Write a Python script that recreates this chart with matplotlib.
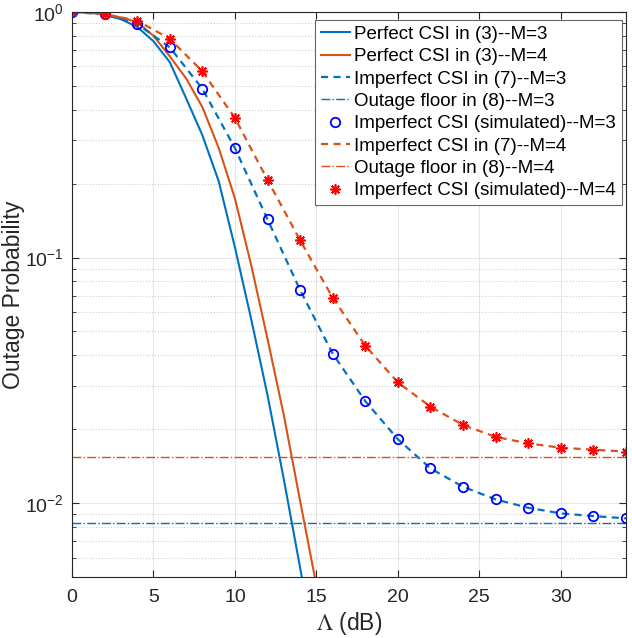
import matplotlib
matplotlib.use('Agg')
import matplotlib.pyplot as plt
import numpy as np

# perfect CSI, eq. (3)
x_perf = [0, 1, 2, 3, 4, 5, 6, 7, 8, 9, 10, 11, 12, 13, 14, 15, 16]
perf_m3 = [1.0, 0.995, 0.975, 0.935, 0.87, 0.76, 0.625, 0.446, 0.315, 0.205,
           0.110, 0.056, 0.0275, 0.0125, 0.00545, 0.00234, 0.001]
perf_m4 = [1.0, 0.997, 0.98, 0.95, 0.91, 0.80, 0.66, 0.537, 0.41, 0.28,
           0.174, 0.093, 0.0466, 0.0228, 0.0102, 0.00462, 0.00204]

# imperfect CSI, analysis (7) and simulation
x_imp = [0, 2, 4, 6, 8, 10, 12, 14, 16, 18, 20, 22, 24, 26, 28, 30, 32, 34]
imp_m3 = [1.0, 0.98, 0.894, 0.718, 0.487, 0.279, 0.143, 0.0737, 0.0406, 0.026,
          0.0182, 0.01384, 0.01165, 0.01035, 0.00957, 0.00908, 0.00885, 0.00867]
imp_m4 = [1.0, 0.98, 0.922, 0.778, 0.573, 0.370, 0.207, 0.1175, 0.0686, 0.0437,
          0.0310, 0.0247, 0.0208, 0.0186, 0.0175, 0.0168, 0.0165, 0.0162]
sim_m3 = imp_m3
sim_m4 = imp_m4

# outage floors, eq. (8)
floor_m3 = 0.00831
floor_m4 = 0.01539

blue = '#0072BD'
orange = '#D95319'
axcol = '#262626'

plt.rcParams['font.family'] = ['Liberation Sans', 'DejaVu Sans']
plt.rcParams['mathtext.fontset'] = 'custom'
plt.rcParams['mathtext.rm'] = 'Liberation Sans'

fig = plt.figure(figsize=(6.32, 6.38), dpi=100)
ax = fig.add_axes([72/632, 1-577/638, (626-72)/632, (577-12)/638])

asterisk = (8, 2, 0)

ax.plot(x_perf, perf_m3, '-', color=blue, lw=1.5, label='Perfect CSI in (3)--M=3')
ax.plot(x_perf, perf_m4, '-', color=orange, lw=1.5, label='Perfect CSI in (3)--M=4')
ax.plot(x_imp, imp_m3, '--', color=blue, lw=1.6, dashes=(3.2, 2.4), label='Imperfect CSI in (7)--M=3')
ax.axhline(floor_m3, color=blue, lw=1.0, ls='-.', label='Outage floor in (8)--M=3')
ax.plot(x_imp, sim_m3, 'o', color='blue', mfc='none', ms=6.8, mew=1.3, label='Imperfect CSI (simulated)--M=3')
ax.plot(x_imp, imp_m4, '--', color=orange, lw=1.6, dashes=(3.2, 2.4), label='Imperfect CSI in (7)--M=4')
ax.axhline(floor_m4, color=orange, lw=1.0, ls='-.', label='Outage floor in (8)--M=4')
ax.plot(x_imp, sim_m4, marker=asterisk, ls='none', color='red', ms=7.5, mew=1.2, label='Imperfect CSI (simulated)--M=4')

ax.set_yscale('log')
ax.set_xlim(0, 34)
ax.set_ylim(0.005, 1)
ax.set_xticks([0, 5, 10, 15, 20, 25, 30])

ax.grid(True, which='major', color='#e6e6e6', lw=0.8, ls='-')
ax.grid(True, which='minor', axis='y', color='#d0d0d0', lw=0.8, ls=':')
ax.set_axisbelow(True)

for s in ax.spines.values():
    s.set_color(axcol)
    s.set_linewidth(0.8)
ax.tick_params(which='both', direction='in', top=True, right=True,
               colors=axcol, labelsize=14, labelcolor=axcol)
ax.tick_params(which='major', length=5)
ax.tick_params(which='minor', length=3)
ax.tick_params(axis='x', pad=8.5)
ax.tick_params(axis='y', pad=6)

ax.set_xlabel('$\\Lambda$ (dB)', fontsize=16.5, color=axcol, labelpad=3,
              math_fontfamily='stix')
ax.set_ylabel('Outage Probability', fontsize=16.5, color=axcol, labelpad=0)

leg = ax.legend(loc='upper right', bbox_to_anchor=(621.7/632, 1-20/638),
                bbox_transform=fig.transFigure, fontsize=13.5, fancybox=False,
                framealpha=1, edgecolor='#666666', borderpad=0.3,
                labelspacing=0.28, handlelength=1.55, handletextpad=0.25,
                borderaxespad=0)
leg.get_frame().set_linewidth(0.8)

fig.savefig('out.png', dpi=100)
